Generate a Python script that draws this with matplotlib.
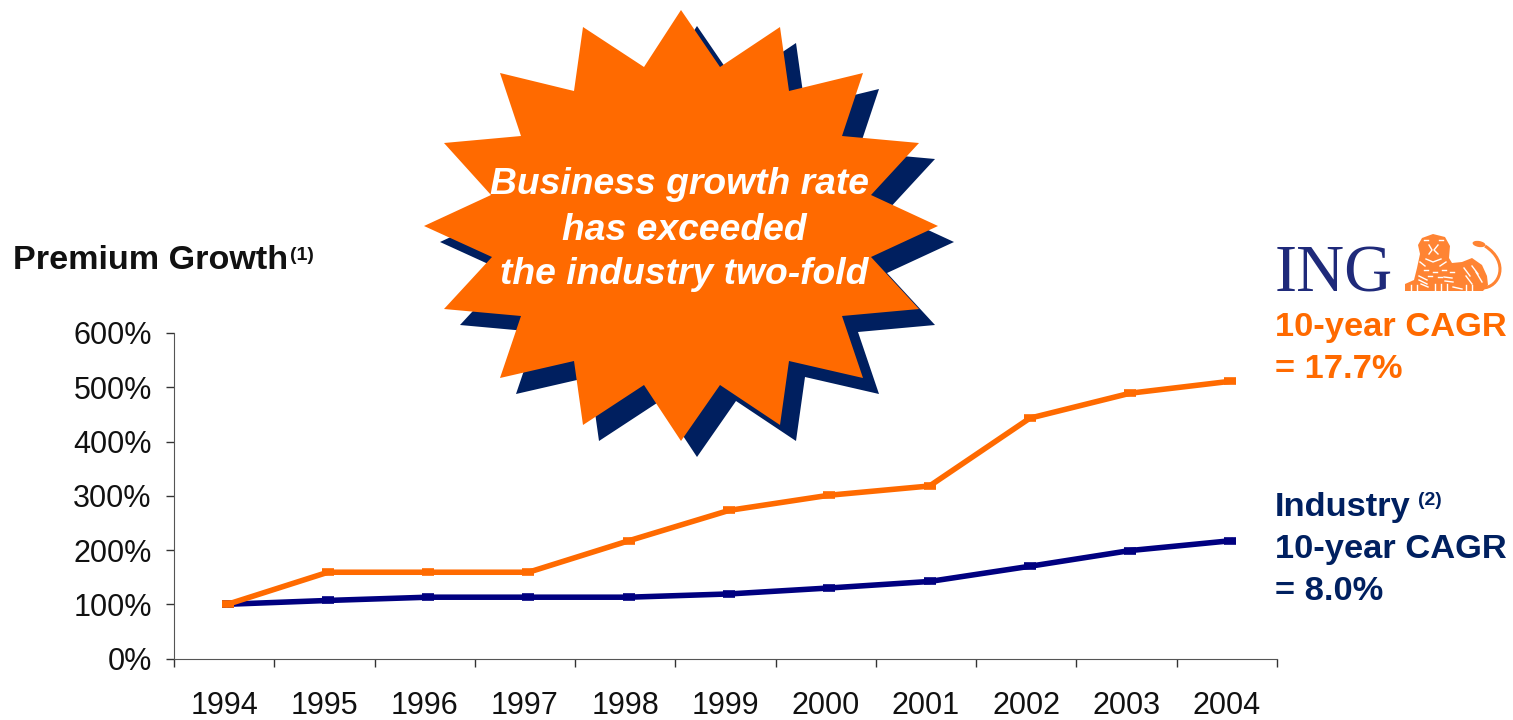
import matplotlib
matplotlib.use('Agg')
import matplotlib.pyplot as plt
from matplotlib.patches import Polygon, PathPatch, Ellipse
from matplotlib.path import Path

years = ['1994', '1995', '1996', '1997', '1998', '1999', '2000', '2001', '2002', '2003', '2004']
ing_growth = [100, 159, 159, 159, 217, 273, 301, 318, 443, 489, 511]
industry_growth = [100, 107, 113, 113, 113, 119, 130, 142, 170, 199, 217]
y_ticks = [0, 100, 200, 300, 400, 500, 600]

ORANGE = '#FF6A00'
NAVY = '#000080'
DARK_NAVY = '#001F5F'
LION = '#FF8433'
W, H = 1513, 720

plt.rcParams['font.family'] = ['Liberation Sans', 'DejaVu Sans']

# starburst outline, pixel positions on the slide
star_x = [681, 720, 780, 789, 863, 842, 919, 871, 938, 871, 919, 842, 863, 789, 780, 720,
          681, 644, 583, 574, 500, 521, 444, 492, 424, 491, 444, 521, 500, 574, 583, 644]
star_y = [10, 67, 27, 91, 73, 136, 143, 195, 226, 257, 309, 316, 378, 361, 425, 385,
          441, 385, 425, 361, 378, 316, 309, 257, 226, 195, 143, 136, 73, 91, 27, 67]

fig = plt.figure(figsize=(W / 100, H / 100), dpi=100)

ax = fig.add_axes([174 / W, 1 - 658.5 / H, (1277 - 174) / W, (658.5 - 333) / H])
# the points sit a little right of the category centres
x = [i + 0.535 for i in range(len(years))]
ax.plot(x, industry_growth, color=NAVY, lw=4, marker='_', ms=8, mew=5.5, solid_joinstyle='round')
ax.plot(x, ing_growth, color=ORANGE, lw=4, marker='_', ms=8, mew=5.5, solid_joinstyle='round')
ax.set_xlim(0, len(years))
ax.set_ylim(0, 600)
ax.set_yticks(y_ticks)
ax.set_yticklabels([f'{v}%' for v in y_ticks], fontsize=22, color='#111111')
ax.set_xticks(range(len(years) + 1))
ax.set_xticklabels([])
for i, lab in enumerate(years):
    ax.annotate(lab, (i + 0.5, 0), xytext=(0, -47), textcoords='offset pixels', ha='center', va='center',
                fontsize=22, color='#111111')
ax.tick_params(axis='both', length=6, width=1, color='#333333', pad=10)
ax.spines['top'].set_visible(False)
ax.spines['right'].set_visible(False)
ax.spines['left'].set_color('#555555')
ax.spines['bottom'].set_color('#555555')

# overlay in pixel coordinates for the slide decorations
ov = fig.add_axes([0, 0, 1, 1])
ov.set_xlim(0, W)
ov.set_ylim(H, 0)
ov.axis('off')

star = list(zip(star_x, star_y))
shadow = [(a + 16, b + 16) for a, b in star]
ov.add_patch(Polygon(shadow, closed=True, fc=DARK_NAVY, ec='none'))
ov.add_patch(Polygon(star, closed=True, fc=ORANGE, ec='none'))

star_lines = ['Business growth rate', 'has exceeded', 'the industry two-fold']
for (cx, cy), line in zip([(679, 182), (684, 227), (684, 271)], star_lines):
    ov.text(cx, cy + 3, line, color='white', fontsize=26.8, fontweight='bold', fontstyle='italic',
            ha='center', va='center')

ov.text(13, 269, 'Premium Growth', fontsize=24.6, fontweight='bold', color='#111111', va='baseline')
ov.text(290, 260, '(1)', fontsize=14, fontweight='bold', color='#111111', va='baseline')

ov.text(1275, 336, '10-year CAGR', fontsize=24.8, fontweight='bold', color=ORANGE, va='baseline')
ov.text(1275, 378, '= 17.7%', fontsize=24.8, fontweight='bold', color=ORANGE, va='baseline')
ov.text(1275, 516, 'Industry', fontsize=24.8, fontweight='bold', color='#002060', va='baseline')
ov.text(1418, 505, '(2)', fontsize=14, fontweight='bold', color='#002060', va='baseline')
ov.text(1275, 558, '10-year CAGR', fontsize=24.8, fontweight='bold', color='#002060', va='baseline')
ov.text(1275, 600, '= 8.0%', fontsize=24.8, fontweight='bold', color='#002060', va='baseline')

ov.text(1275, 291, 'ING', family='Liberation Serif', fontsize=48, color='#1F2A7A', va='baseline')

# lion emblem
lion = [(1405, 291), (1405, 284), (1414, 280), (1417, 268), (1420, 254), (1418, 245), (1422, 238), (1433, 234),
        (1445, 237), (1450, 246), (1449, 258), (1452, 263), (1462, 262), (1472, 258), (1482, 265),
        (1487, 276), (1488, 285), (1483, 291)]
ov.add_patch(Polygon(lion, closed=True, fc=LION, ec='none'))
tail = Path([(1482, 288), (1500, 288), (1510, 262), (1485, 246)],
            [Path.MOVETO, Path.CURVE4, Path.CURVE4, Path.CURVE4])
ov.add_patch(PathPatch(tail, fc='none', ec=LION, lw=2.2))
ov.add_patch(Ellipse((1479, 244), 13, 6, angle=10, fc=LION, ec='none'))

# whiskers, mane and paw strokes
lion_strokes = [
    ([1424, 1428], [240, 240]), ([1439, 1443], [240, 240]),
    ([1429, 1432, 1429], [245, 250, 254]), ([1438, 1434, 1438], [245, 250, 254]),
    ([1426, 1433, 1441], [259, 262, 259]),
    ([1420, 1425], [262, 266]), ([1446, 1440], [262, 266]),
    ([1424, 1428], [270, 270]), ([1433, 1437], [272, 272]), ([1442, 1446], [270, 270]),
    ([1428, 1432], [276, 276]), ([1438, 1442], [277, 277]), ([1450, 1454], [272, 272]),
    ([1419, 1427], [276, 280]), ([1419, 1427], [280, 284]), ([1421, 1428], [284, 287]),
    ([1444, 1452], [277, 278]), ([1445, 1453], [281, 282]),
    ([1464, 1470], [268, 276]), ([1472, 1478], [266, 274]), ([1466, 1472], [276, 284]), ([1476, 1482], [272, 282]),
    ([1411, 1411], [285, 291]), ([1417, 1417], [285, 291]),
    ([1435, 1435], [284, 291]), ([1441, 1441], [284, 291]), ([1447, 1447], [284, 291]),
    ([1466, 1466], [285, 291]), ([1472, 1472], [285, 291]), ([1453, 1462], [287, 289]),
]
for sx, sy in lion_strokes:
    ov.plot(sx, sy, color='white', lw=1.0)

fig.savefig('out.png', dpi=100)
